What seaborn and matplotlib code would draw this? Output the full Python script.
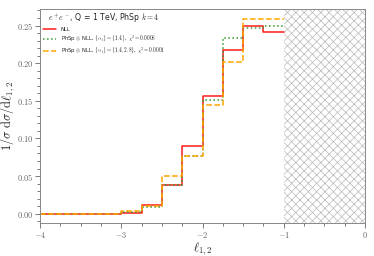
import numpy as np
import pandas as pd
import matplotlib
matplotlib.use("Agg")
import matplotlib.pyplot as plt
from matplotlib.ticker import MultipleLocator
import seaborn as sns

# bin edges in l_{1,2} (width 0.25)
edges = [-4.0, -3.75, -3.5, -3.25, -3.0, -2.75, -2.5, -2.25, -2.0, -1.75, -1.5, -1.25, -1.0]
nll = [0.0, 0.0, 0.0, 0.0, 0.0005, 0.0114, 0.0377, 0.090, 0.157, 0.218, 0.250, 0.2417]
phsp_1 = [0.0, 0.0, 0.0, 0.0, 0.0017, 0.0088, 0.038, 0.076, 0.151, 0.234, 0.2465, 0.249]
phsp_2 = [0.0, 0.0, 0.0, 0.0, 0.003, 0.010, 0.0496, 0.077, 0.145, 0.202, 0.259, 0.258]

labels = [
    "NLL",
    r"PhSp $\otimes$ NLL, $\{\alpha_i\}=\{1.4\}$, $\chi^2=0.0006$",
    r"PhSp $\otimes$ NLL, $\{\alpha_i\}=\{1.4,2.8\}$, $\chi^2=0.0001$",
]
colors = ["#ff1a1a", "#2e9a2e", "#ffa500"]
styles = ["-", ":", "--"]

sns.set_style("ticks")
plt.rcParams["mathtext.fontset"] = "cm"
plt.rcParams["font.family"] = ["DejaVu Sans"]
plt.rcParams["hatch.linewidth"] = 0.5

rows = []
for lab, vals in zip(labels, [nll, phsp_1, phsp_2]):
    ys = list(vals) + [vals[-1]]
    for x, y in zip(edges, ys):
        rows.append({"x": x, "y": y, "model": lab})
df = pd.DataFrame(rows)

fig = plt.figure(figsize=(3.74, 2.56), dpi=100)
ax = fig.add_axes([0.107, 0.13, 0.869, 0.835])

ax.axvspan(-1, 0, facecolor="none", edgecolor="#b8b8b8", hatch="xxxx", linewidth=0)

for lab, c, ls in zip(labels, colors, styles):
    sub = df[df["model"] == lab]
    sns.lineplot(data=sub, x="x", y="y", ax=ax, color=c, linestyle=ls,
                 drawstyle="steps-post", linewidth=1.1, label=lab,
                 estimator=None, sort=False)

ax.set_xlim(-4, 0)
ax.set_ylim(-0.012, 0.272)
ax.xaxis.set_major_locator(MultipleLocator(1))
ax.xaxis.set_minor_locator(MultipleLocator(0.25))
ax.yaxis.set_major_locator(MultipleLocator(0.05))
ax.yaxis.set_minor_locator(MultipleLocator(0.01))
ax.xaxis.set_major_formatter(plt.FuncFormatter(lambda v, p: r"$%d$" % v))
ax.yaxis.set_major_formatter(plt.FuncFormatter(lambda v, p: r"$%.2f$" % v))
ax.tick_params(which="both", colors="#666666", labelsize=6, width=0.6, pad=1.5)
ax.tick_params(which="major", length=3.5)
ax.tick_params(which="minor", length=2)
for s in ax.spines.values():
    s.set_color("#888888")
    s.set_linewidth(0.7)

ax.set_xlabel(r"$\ell_{1,2}$", fontsize=9)
ax.set_ylabel(r"$1/\sigma\ \mathrm{d}\sigma/\mathrm{d}\ell_{1,2}$", fontsize=9)
ax.xaxis.set_label_coords(0.5, -0.085)
ax.yaxis.set_label_coords(-0.07, 0.5)

leg = ax.legend(loc="upper left", frameon=False, fontsize=3.8,
                title=r"$e^+e^-$, Q = 1 TeV, PhSp $k=4$",
                title_fontsize=5.6, handlelength=2.5, labelspacing=0.35,
                borderaxespad=0.2, handletextpad=0.8)

fig.savefig("out.png", dpi=100)
